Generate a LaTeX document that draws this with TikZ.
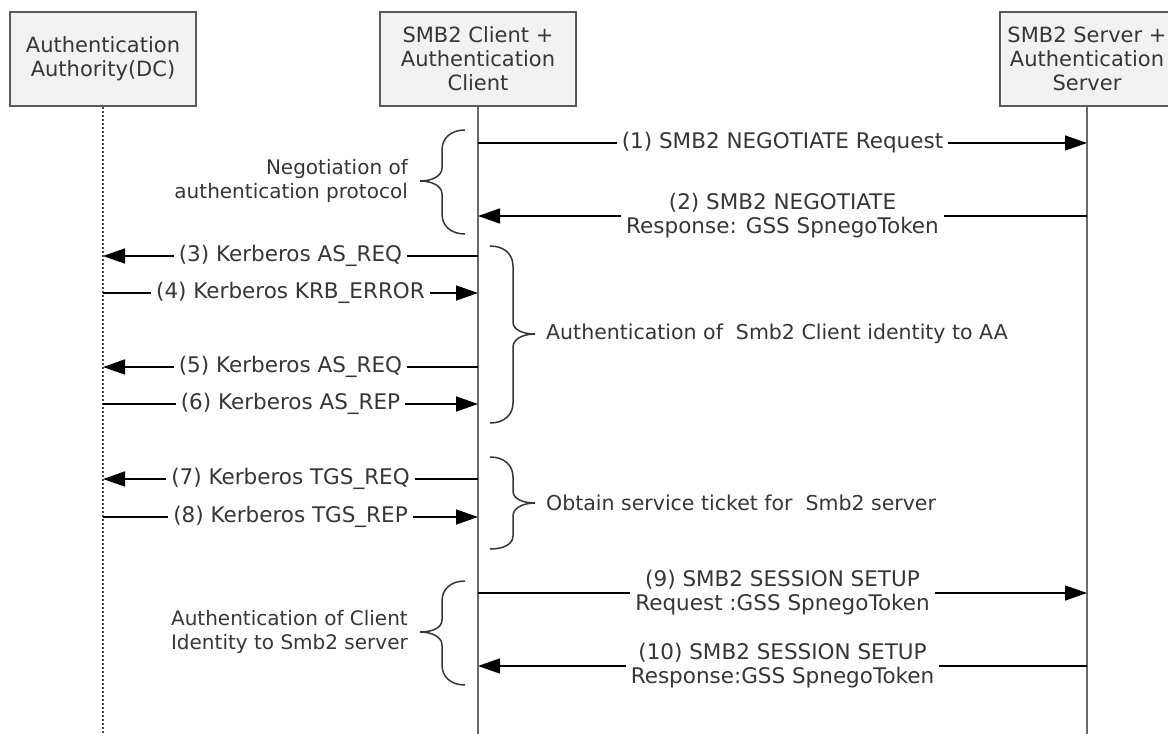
\documentclass[tikz,border=0pt]{standalone}
\usepackage{fontspec}
\setmainfont{DejaVu Sans}
\usetikzlibrary{arrows.meta}
\definecolor{txt}{HTML}{363636}
\definecolor{boxfill}{HTML}{F2F2F2}
\definecolor{boxline}{HTML}{5A5A5A}
\definecolor{lifegray}{HTML}{6A6A6A}
\tikzset{
  actor/.style={draw=boxline, line width=2pt, fill=boxfill, minimum height=94pt, text=txt, align=center, inner sep=0pt, font=\fontsize{21}{24}\selectfont},
  life/.style={draw=lifegray, line width=2.2pt},
  dotlife/.style={draw=lifegray!70!black, line width=2pt, dash pattern=on 2pt off 2pt},
  msg/.style={draw=black, line width=1.5pt, -{Triangle[length=22pt,width=15pt]}},
  lbl/.style={fill=white, text=txt, align=center, inner xsep=5pt, inner ysep=2pt, font=\fontsize{21.5}{24}\selectfont},
  note/.style={text=txt, inner sep=0pt, anchor=west, font=\fontsize{20.5}{24}\selectfont},
  lnote/.style={text=txt, inner sep=0pt, align=right, anchor=east, font=\fontsize{20}{24}\selectfont},
  brc/.style={draw=txt, line width=1.5pt}
}
\begin{document}
\begin{tikzpicture}[x=1pt,y=-1pt]
\useasboundingbox (0,0) rectangle (1168,734);
% actors
\node[actor, minimum width=186pt] (A) at (103,59) {Authentication\\Authority(DC)};
\node[actor, minimum width=196pt] (B) at (478,59) {SMB2 Client +\\Authentication\\Client};
\node[actor, minimum width=174pt] (C) at (1087,59) {SMB2 Server +\\Authentication\\Server};
% lifelines
\coordinate (Aend) at (103,740);
\coordinate (Bend) at (478,740);
\coordinate (Cend) at (1087,740);
\draw[dotlife] (A.south) -- (Aend);
\draw[life] (B.south) -- (Bend);
\draw[life] (C.south) -- (Cend);
% message points
\foreach \n/\y in {1/143,2/216,9/593,10/666}{
  \coordinate (b\n) at (478,\y);
  \coordinate (c\n) at (1087,\y);
}
\foreach \n/\y in {3/256,4/293,5/367,6/404,7/479,8/517}{
  \coordinate (a\n) at (103,\y);
  \coordinate (b\n) at (478,\y);
}
% messages
\draw[msg] (b1) -- node[lbl] (m1) {(1) SMB2 NEGOTIATE Request} (c1);
\draw[msg] (c2) -- node[lbl] (m2) {(2) SMB2 NEGOTIATE\\Response: GSS SpnegoToken} (b2);
\draw[msg] (b3) -- node[lbl] (m3) {(3) Kerberos AS\_REQ} (a3);
\draw[msg] (a4) -- node[lbl] (m4) {(4) Kerberos KRB\_ERROR} (b4);
\draw[msg] (b5) -- node[lbl] (m5) {(5) Kerberos AS\_REQ} (a5);
\draw[msg] (a6) -- node[lbl] (m6) {(6) Kerberos AS\_REP} (b6);
\draw[msg] (b7) -- node[lbl] (m7) {(7) Kerberos TGS\_REQ} (a7);
\draw[msg] (a8) -- node[lbl] (m8) {(8) Kerberos TGS\_REP} (b8);
\draw[msg] (b9) -- node[lbl] (m9) {(9) SMB2 SESSION SETUP\\Request :GSS SpnegoToken} (c9);
\draw[msg] (c10) -- node[lbl] (m10) {(10) SMB2 SESSION SETUP\\Response:GSS SpnegoToken} (b10);
% braces
\draw[brc] (465,130) .. controls (451,130) and (442,138) .. (442,150) -- (442,168)
  .. controls (442,176) and (432,181) .. (420,181)
  .. controls (432,181) and (442,186) .. (442,194) -- (442,214)
  .. controls (442,226) and (451,234) .. (465,234);
\draw[brc] (490,246) .. controls (504,246) and (513,254) .. (513,266) -- (513,322)
  .. controls (513,330) and (523,334) .. (535,334)
  .. controls (523,334) and (513,339) .. (513,347) -- (513,403)
  .. controls (513,415) and (504,423) .. (490,423);
\draw[brc] (490,457) .. controls (504,457) and (513,465) .. (513,477) -- (513,491)
  .. controls (513,499) and (523,503) .. (535,503)
  .. controls (523,503) and (513,508) .. (513,516) -- (513,536)
  .. controls (513,544) and (504,549) .. (490,549);
\draw[brc] (465,581) .. controls (451,581) and (442,589) .. (442,601) -- (442,620)
  .. controls (442,628) and (432,632) .. (420,632)
  .. controls (432,632) and (442,637) .. (442,645) -- (442,665)
  .. controls (442,677) and (451,685) .. (465,685);
% brace labels
\node[lnote] (n1) at (408,181) {Negotiation of\\authentication protocol};
\node[note] (n2) at (546,334) {Authentication of\hspace{13pt}Smb2 Client identity to AA};
\node[note] (n3) at (546,503) {Obtain service ticket for\hspace{13pt}Smb2 server};
\node[lnote] (n4) at (408,632) {Authentication of Client\\Identity to Smb2 server};
\end{tikzpicture}
\end{document}
